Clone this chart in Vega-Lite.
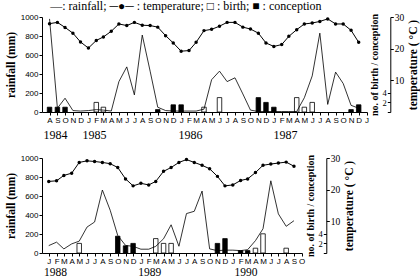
{
  "$schema": "https://vega.github.io/schema/vega-lite/v6.json",
  "background": "white",
  "padding": {"left": 5, "top": 0, "right": 0, "bottom": 0},
  "title": {
    "text": "—: rainfall;  ─●─ : temperature;  □ : birth;  ■ : conception",
    "font": "Liberation Serif",
    "fontSize": 12,
    "fontWeight": "normal",
    "color": "black",
    "anchor": "start",
    "dx": 45,
    "offset": -1
  },
  "config": {
    "view": {"stroke": null},
    "axis": {
      "grid": false,
      "domainColor": "black",
      "tickColor": "black",
      "labelColor": "black",
      "titleColor": "black",
      "domainWidth": 1,
      "tickWidth": 1
    }
  },
  "datasets": {
    "top": [
      {"month": "1984-08-01", "rain": 980, "temp": 27.9},
      {"month": "1984-09-01", "rain": 40, "temp": 28.3},
      {"month": "1984-10-01", "rain": 145, "temp": 26.7},
      {"month": "1984-11-01", "rain": 15, "temp": 24.9},
      {"month": "1984-12-01", "rain": 10, "temp": 22.1},
      {"month": "1985-01-01", "rain": 15, "temp": 20.2},
      {"month": "1985-02-01", "rain": 25, "temp": 22.6},
      {"month": "1985-03-01", "rain": 20, "temp": 23.7},
      {"month": "1985-04-01", "rain": 10, "temp": 25.5},
      {"month": "1985-05-01", "rain": 320, "temp": 27.8},
      {"month": "1985-06-01", "rain": 475, "temp": 27.3},
      {"month": "1985-07-01", "rain": 180, "temp": 28.3},
      {"month": "1985-08-01", "rain": 810, "temp": 27.4},
      {"month": "1985-09-01", "rain": 430, "temp": 27.3},
      {"month": "1985-10-01", "rain": 50, "temp": 26.8},
      {"month": "1985-11-01", "rain": 15, "temp": 24.1},
      {"month": "1985-12-01", "rain": 10, "temp": 21.8},
      {"month": "1986-01-01", "rain": 10, "temp": 19.2},
      {"month": "1986-02-01", "rain": 10, "temp": 19.4},
      {"month": "1986-03-01", "rain": 10, "temp": 22.0},
      {"month": "1986-04-01", "rain": 30, "temp": 25.7},
      {"month": "1986-05-01", "rain": 340, "temp": 26.1},
      {"month": "1986-06-01", "rain": 430, "temp": 27.1},
      {"month": "1986-07-01", "rain": 320, "temp": 28.3},
      {"month": "1986-08-01", "rain": 360, "temp": 28.3},
      {"month": "1986-09-01", "rain": 190, "temp": 26.8},
      {"month": "1986-10-01", "rain": 20, "temp": 26.2},
      {"month": "1986-11-01", "rain": 5, "temp": 24.9},
      {"month": "1986-12-01", "rain": 5, "temp": 21.8},
      {"month": "1987-01-01", "rain": 5, "temp": 20.7},
      {"month": "1987-02-01", "rain": 5, "temp": 21.3},
      {"month": "1987-03-01", "rain": 5, "temp": 23.9},
      {"month": "1987-04-01", "rain": 5, "temp": 26.0},
      {"month": "1987-05-01", "rain": 150, "temp": 27.8},
      {"month": "1987-06-01", "rain": 380, "temp": 28.1},
      {"month": "1987-07-01", "rain": 830, "temp": 28.6},
      {"month": "1987-08-01", "rain": 80, "temp": 29.4},
      {"month": "1987-09-01", "rain": 420, "temp": 27.8},
      {"month": "1987-10-01", "rain": 300, "temp": 27.8},
      {"month": "1987-11-01", "rain": 70, "temp": 25.8},
      {"month": "1987-12-01", "rain": 40, "temp": 22.0}
    ],
    "topCounts": [
      {"month": "1984-08-01", "kind": "conception", "n": 1},
      {"month": "1984-09-01", "kind": "conception", "n": 1},
      {"month": "1984-10-01", "kind": "conception", "n": 1},
      {"month": "1985-02-01", "kind": "birth", "n": 2},
      {"month": "1985-03-01", "kind": "birth", "n": 1},
      {"month": "1985-10-01", "kind": "conception", "n": 0.5},
      {"month": "1985-12-01", "kind": "conception", "n": 1.5},
      {"month": "1986-01-01", "kind": "conception", "n": 1.5},
      {"month": "1986-04-01", "kind": "birth", "n": 1},
      {"month": "1986-06-01", "kind": "birth", "n": 3},
      {"month": "1986-11-01", "kind": "conception", "n": 3},
      {"month": "1986-12-01", "kind": "conception", "n": 2},
      {"month": "1987-01-01", "kind": "conception", "n": 1},
      {"month": "1987-04-01", "kind": "birth", "n": 3},
      {"month": "1987-05-01", "kind": "birth", "n": 1},
      {"month": "1987-06-01", "kind": "birth", "n": 2},
      {"month": "1987-11-01", "kind": "conception", "n": 0.5},
      {"month": "1987-12-01", "kind": "conception", "n": 1.5}
    ],
    "topYears": [
      {"mid": "1984-09-10", "year": "1984"},
      {"mid": "1985-02-05", "year": "1985"},
      {"mid": "1986-02-07", "year": "1986"},
      {"mid": "1987-02-04", "year": "1987"}
    ],
    "bottom": [
      {"month": "1988-01-01", "rain": 78, "temp": 22.6},
      {"month": "1988-02-01", "rain": 114, "temp": 22.8},
      {"month": "1988-03-01", "rain": 43, "temp": 24.5},
      {"month": "1988-04-01", "rain": 96, "temp": 25.2},
      {"month": "1988-05-01", "rain": 125, "temp": 28.6},
      {"month": "1988-06-01", "rain": 273, "temp": 29.1},
      {"month": "1988-07-01", "rain": 326, "temp": 28.9},
      {"month": "1988-08-01", "rain": 663, "temp": 28.6},
      {"month": "1988-09-01", "rain": 450, "temp": 28.2},
      {"month": "1988-10-01", "rain": 184, "temp": 27.0},
      {"month": "1988-11-01", "rain": 80, "temp": 23.4},
      {"month": "1988-12-01", "rain": 70, "temp": 21.2},
      {"month": "1989-01-01", "rain": 40, "temp": 22.0},
      {"month": "1989-02-01", "rain": 40, "temp": 21.5},
      {"month": "1989-03-01", "rain": 70, "temp": 22.6},
      {"month": "1989-04-01", "rain": 150, "temp": 25.8},
      {"month": "1989-05-01", "rain": 297, "temp": 27.0},
      {"month": "1989-06-01", "rain": 71, "temp": 28.6},
      {"month": "1989-07-01", "rain": 415, "temp": 29.5},
      {"month": "1989-08-01", "rain": 439, "temp": 28.6},
      {"month": "1989-09-01", "rain": 652, "temp": 27.7},
      {"month": "1989-10-01", "rain": 43, "temp": 26.6},
      {"month": "1989-11-01", "rain": 25, "temp": 24.2},
      {"month": "1989-12-01", "rain": 30, "temp": 21.2},
      {"month": "1990-01-01", "rain": 30, "temp": 21.5},
      {"month": "1990-02-01", "rain": 25, "temp": 22.9},
      {"month": "1990-03-01", "rain": 35, "temp": 23.4},
      {"month": "1990-04-01", "rain": 130, "temp": 25.4},
      {"month": "1990-05-01", "rain": 255, "temp": 27.7},
      {"month": "1990-06-01", "rain": 760, "temp": 28.1},
      {"month": "1990-07-01", "rain": 412, "temp": 28.4},
      {"month": "1990-08-01", "rain": 281, "temp": 28.7},
      {"month": "1990-09-01", "rain": 340, "temp": 27.4}
    ],
    "bottomCounts": [
      {"month": "1988-05-01", "kind": "birth", "n": 2},
      {"month": "1988-10-01", "kind": "conception", "n": 3.5},
      {"month": "1988-11-01", "kind": "conception", "n": 1.5},
      {"month": "1988-12-01", "kind": "conception", "n": 2},
      {"month": "1989-03-01", "kind": "birth", "n": 3},
      {"month": "1989-04-01", "kind": "birth", "n": 2},
      {"month": "1989-05-01", "kind": "birth", "n": 2},
      {"month": "1989-11-01", "kind": "conception", "n": 2},
      {"month": "1989-12-01", "kind": "conception", "n": 3},
      {"month": "1990-02-01", "kind": "conception", "n": 0.5},
      {"month": "1990-03-01", "kind": "conception", "n": 0.5},
      {"month": "1990-04-01", "kind": "birth", "n": 1},
      {"month": "1990-05-01", "kind": "birth", "n": 4},
      {"month": "1990-08-01", "kind": "birth", "n": 1}
    ],
    "bottomYears": [
      {"mid": "1988-02-13", "year": "1988"},
      {"mid": "1989-02-07", "year": "1989"},
      {"mid": "1990-02-09", "year": "1990"}
    ]
  },
  "bounds": "flush",
  "spacing": 46,
  "vconcat": [
    {
      "width": 325,
      "height": 95,
      "layer": [
        {
          "encoding": {
            "x": {
              "field": "month",
              "type": "temporal",
              "scale": {
                "type": "utc",
                "domain": [
                  {"year": 1984, "month": 7, "date": 22, "utc": true},
                  {"year": 1987, "month": 12, "date": 14, "utc": true}
                ]
              },
              "axis": {
                "orient": "bottom",
                "title": null,
                "tickCount": {"interval": "month", "step": 1},
                "tickSize": 3,
                "labelExpr": "substring(utcFormat(datum.value, '%b'), 0, 1)",
                "labelFont": "Liberation Sans",
                "labelFontSize": 8,
                "labelPadding": 1,
                "labelOverlap": false,
                "labelFlush": false
              }
            }
          },
          "layer": [
            {
              "data": {"name": "topCounts"},
              "mark": {"type": "bar", "size": 4.5, "stroke": "black", "strokeWidth": 0.8},
              "encoding": {
                "y": {
                  "field": "n",
                  "type": "quantitative",
                  "stack": null,
                  "scale": {"domain": [0, 19.8]},
                  "axis": {
                    "orient": "left",
                    "offset": -348.3,
                    "values": [0, 2, 4],
                    "labelExpr": "datum.value == 0 ? '' : datum.label",
                    "tickSize": 3,
                    "labelFont": "Liberation Serif",
                    "labelFontSize": 8.5,
                    "labelPadding": 1,
                    "title": "no. of birth / conception",
                    "titleFont": "Liberation Serif",
                    "titleFontWeight": "bold",
                    "titleFontSize": 10,
                    "titlePadding": 3
                  }
                },
                "fill": {
                  "field": "kind",
                  "type": "nominal",
                  "scale": {"domain": ["birth", "conception"], "range": ["white", "black"]},
                  "legend": null
                }
              }
            },
            {
              "data": {"name": "top"},
              "mark": {"type": "line", "color": "black", "strokeWidth": 0.8},
              "encoding": {
                "y": {
                  "field": "rain",
                  "type": "quantitative",
                  "scale": {"domain": [0, 1000]},
                  "axis": {
                    "orient": "left",
                    "values": [0, 200, 400, 600, 800, 1000],
                    "format": "d",
                    "tickSize": 3,
                    "labelFont": "Liberation Sans",
                    "labelFontSize": 8,
                    "labelPadding": 1,
                    "title": "rainfall (mm)",
                    "titleFont": "Liberation Serif",
                    "titleFontWeight": "bold",
                    "titleFontSize": 11.5,
                    "titlePadding": 4
                  }
                }
              }
            },
            {
              "data": {"name": "top"},
              "encoding": {
                "y": {
                  "field": "temp",
                  "type": "quantitative",
                  "scale": {"domain": [0, 30]},
                  "axis": {
                    "orient": "right",
                    "offset": 23.3,
                    "domain": false,
                    "values": [10, 20, 30],
                    "tickSize": 3,
                    "labelFont": "Liberation Serif",
                    "labelFontSize": 9.5,
                    "labelPadding": 1,
                    "title": "temperature ( °C )",
                    "titleAngle": 270,
                    "titleBaseline": "top",
                    "titleFont": "Liberation Serif",
                    "titleFontWeight": "bold",
                    "titleFontSize": 11.5,
                    "titlePadding": 4
                  }
                }
              },
              "layer": [
                {"mark": {"type": "line", "color": "black", "strokeWidth": 1}, "encoding": {}},
                {"mark": {"type": "point", "filled": true, "color": "black", "opacity": 1, "size": 12}}
              ]
            }
          ],
          "resolve": {"scale": {"y": "independent"}}
        },
        {
          "data": {"name": "topYears"},
          "mark": {"type": "tick", "opacity": 0},
          "encoding": {
            "x": {
              "field": "mid",
              "type": "temporal",
              "scale": {
                "type": "utc",
                "domain": [
                  {"year": 1984, "month": 7, "date": 22, "utc": true},
                  {"year": 1987, "month": 12, "date": 14, "utc": true}
                ]
              },
              "axis": {
                "orient": "bottom",
                "offset": 17,
                "title": null,
                "domain": false,
                "ticks": false,
                "values": [
                  {"year": 1984, "month": 9, "date": 10, "utc": true},
                  {"year": 1985, "month": 2, "date": 5, "utc": true},
                  {"year": 1986, "month": 2, "date": 7, "utc": true},
                  {"year": 1987, "month": 2, "date": 4, "utc": true}
                ],
                "labelExpr": "utcFormat(datum.value, '%Y')",
                "labelFont": "Liberation Serif",
                "labelFontSize": 12,
                "labelPadding": 0,
                "labelOverlap": false,
                "labelFlush": false
              }
            }
          }
        }
      ],
      "resolve": {"scale": {"x": "independent"}, "axis": {"x": "independent"}}
    },
    {
      "width": 260,
      "height": 95,
      "layer": [
        {
          "encoding": {
            "x": {
              "field": "month",
              "type": "temporal",
              "scale": {
                "type": "utc",
                "domain": [
                  {"year": 1987, "month": 12, "date": 25, "utc": true},
                  {"year": 1990, "month": 9, "date": 13, "utc": true}
                ]
              },
              "axis": {
                "orient": "bottom",
                "title": null,
                "tickCount": {"interval": "month", "step": 1},
                "tickSize": 3,
                "labelExpr": "substring(utcFormat(datum.value, '%b'), 0, 1)",
                "labelFont": "Liberation Sans",
                "labelFontSize": 8,
                "labelPadding": 1,
                "labelOverlap": false,
                "labelFlush": false
              }
            }
          },
          "layer": [
            {
              "data": {"name": "bottomCounts"},
              "mark": {"type": "bar", "size": 4.5, "stroke": "black", "strokeWidth": 0.8},
              "encoding": {
                "y": {
                  "field": "n",
                  "type": "quantitative",
                  "stack": null,
                  "scale": {"domain": [0, 19.8]},
                  "axis": {
                    "orient": "left",
                    "offset": -284.3,
                    "values": [0, 2, 4],
                    "labelExpr": "datum.value == 0 ? '' : datum.label",
                    "tickSize": 3,
                    "labelFont": "Liberation Serif",
                    "labelFontSize": 8.5,
                    "labelPadding": 1,
                    "title": "no. of birth / conception",
                    "titleFont": "Liberation Serif",
                    "titleFontWeight": "bold",
                    "titleFontSize": 10,
                    "titlePadding": 3
                  }
                },
                "fill": {
                  "field": "kind",
                  "type": "nominal",
                  "scale": {"domain": ["birth", "conception"], "range": ["white", "black"]},
                  "legend": null
                }
              }
            },
            {
              "data": {"name": "bottom"},
              "mark": {"type": "line", "color": "black", "strokeWidth": 0.8},
              "encoding": {
                "y": {
                  "field": "rain",
                  "type": "quantitative",
                  "scale": {"domain": [0, 1000]},
                  "axis": {
                    "orient": "left",
                    "values": [0, 200, 400, 600, 800, 1000],
                    "format": "d",
                    "tickSize": 3,
                    "labelFont": "Liberation Sans",
                    "labelFontSize": 8,
                    "labelPadding": 1,
                    "title": "rainfall (mm)",
                    "titleFont": "Liberation Serif",
                    "titleFontWeight": "bold",
                    "titleFontSize": 11.5,
                    "titlePadding": 4
                  }
                }
              }
            },
            {
              "data": {"name": "bottom"},
              "encoding": {
                "y": {
                  "field": "temp",
                  "type": "quantitative",
                  "scale": {"domain": [0, 30]},
                  "axis": {
                    "orient": "right",
                    "offset": 24.3,
                    "domain": false,
                    "values": [10, 20, 30],
                    "tickSize": 3,
                    "labelFont": "Liberation Serif",
                    "labelFontSize": 9.5,
                    "labelPadding": 1,
                    "title": "temperature ( °C )",
                    "titleAngle": 270,
                    "titleBaseline": "top",
                    "titleFont": "Liberation Serif",
                    "titleFontWeight": "bold",
                    "titleFontSize": 11.5,
                    "titlePadding": 4
                  }
                }
              },
              "layer": [
                {"mark": {"type": "line", "color": "black", "strokeWidth": 1}, "encoding": {}},
                {"mark": {"type": "point", "filled": true, "color": "black", "opacity": 1, "size": 12}}
              ]
            }
          ],
          "resolve": {"scale": {"y": "independent"}}
        },
        {
          "data": {"name": "bottomYears"},
          "mark": {"type": "tick", "opacity": 0},
          "encoding": {
            "x": {
              "field": "mid",
              "type": "temporal",
              "scale": {
                "type": "utc",
                "domain": [
                  {"year": 1987, "month": 12, "date": 25, "utc": true},
                  {"year": 1990, "month": 9, "date": 13, "utc": true}
                ]
              },
              "axis": {
                "orient": "bottom",
                "offset": 13,
                "title": null,
                "domain": false,
                "ticks": false,
                "values": [
                  {"year": 1988, "month": 2, "date": 13, "utc": true},
                  {"year": 1989, "month": 2, "date": 7, "utc": true},
                  {"year": 1990, "month": 2, "date": 9, "utc": true}
                ],
                "labelExpr": "utcFormat(datum.value, '%Y')",
                "labelFont": "Liberation Serif",
                "labelFontSize": 11.5,
                "labelPadding": 0,
                "labelOverlap": false,
                "labelFlush": false
              }
            }
          }
        }
      ],
      "resolve": {"scale": {"x": "independent"}, "axis": {"x": "independent"}}
    }
  ]
}
